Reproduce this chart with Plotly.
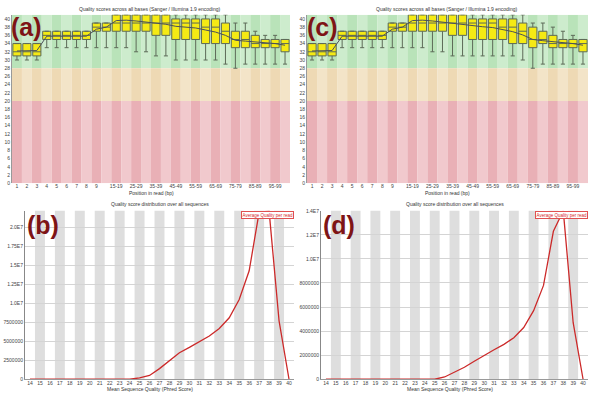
import plotly.graph_objects as go

W, H = 590, 398

# ---------------- data: per-base quality (panels a, c) ----------------
positions = ["1", "2", "3", "4", "5", "6", "7", "8", "9",
             "10-14", "15-19", "20-24", "25-29", "30-34", "35-39", "40-44",
             "45-49", "50-54", "55-59", "60-64", "65-69", "70-74", "75-79",
             "80-84", "85-89", "90-94", "95-99", "100-101"]
pos_tick_idx = [0, 1, 2, 3, 4, 5, 6, 7, 8, 10, 12, 14, 16, 18, 20, 22, 24, 26]
qual_ticks = list(range(0, 41, 2))

q1_a = [31, 31, 31, 35, 35, 35, 35, 35, 37, 37, 37, 37, 37, 37, 36, 36, 35, 35, 35, 34, 34, 34, 33, 33, 33, 33, 33, 32]
med_a = [32, 32, 32, 36, 36, 36, 36, 36, 38, 38, 39, 39, 39, 39, 39, 39, 39, 39, 39, 38, 38, 37, 35, 35, 34, 34, 34, 34]
q3_a = [34, 34, 34, 37, 37, 37, 37, 37, 39, 39, 41, 41, 41, 41, 41, 41, 40, 40, 40, 40, 40, 39, 37, 37, 36, 35, 35, 35]
lo_a = [30, 30, 30, 33, 33, 33, 33, 33, 33, 33, 33, 33, 32, 32, 31, 31, 30, 30, 30, 30, 30, 29, 28, 29, 29, 29, 29, 29]
hi_a = [34, 34, 34, 37, 37, 37, 37, 37, 39, 39, 41, 41, 41, 41, 41, 41, 41, 41, 41, 41, 41, 41, 39, 39, 37, 36, 36, 35]
mean_a = [32.2, 32.2, 32.3, 35.8, 35.8, 35.8, 35.8, 35.8, 37.5, 38.0, 39.6, 39.7, 39.5, 39.2, 38.9, 38.7,
          38.2, 38.0, 37.8, 37.3, 36.8, 36.0, 34.8, 34.6, 34.4, 34.2, 34.0, 33.6]

q1_c = [31, 31, 31, 35, 35, 35, 35, 35, 37, 37, 37, 37, 37, 37, 36, 36, 35, 35, 35, 35, 34, 34, 33, 34, 33, 33, 33, 32]
med_c = [32, 32, 32, 36, 36, 36, 36, 36, 38, 38, 39, 39, 39, 39, 39, 39, 39, 39, 39, 38, 38, 37, 35, 35, 34, 34, 34, 34]
q3_c = [34, 34, 34, 37, 37, 37, 37, 37, 39, 39, 41, 41, 41, 41, 41, 41, 40, 40, 40, 40, 40, 39, 38, 37, 36, 35, 35, 35]
lo_c = [30, 30, 30, 33, 33, 33, 33, 33, 33, 33, 33, 33, 32, 32, 31, 31, 31, 31, 31, 31, 31, 30, 28, 29, 29, 29, 29, 29]
hi_c = [34, 34, 34, 37, 37, 37, 37, 37, 39, 39, 41, 41, 41, 41, 41, 41, 41, 41, 41, 41, 41, 41, 39, 39, 38, 37, 36, 35]
mean_c = [32.2, 32.2, 32.3, 35.8, 35.8, 35.8, 35.8, 35.8, 37.5, 38.0, 39.6, 39.7, 39.5, 39.2, 38.9, 38.7,
          38.3, 38.1, 37.9, 37.4, 36.9, 36.1, 35.0, 34.7, 34.5, 34.2, 34.0, 33.6]

# ---------------- data: per-sequence quality (panels b, d) ----------------
seq_q = list(range(14, 41))
count_b = [0, 0, 0, 0, 0, 0, 0, 0, 0, 0, 0, 170000, 500000, 1400000, 2500000, 3500000, 4200000,
           5000000, 5700000, 6700000, 8100000, 10500000, 14300000, 22000000, 22200000, 7700000, 0]
count_d = [0, 0, 0, 0, 0, 0, 0, 0, 0, 0, 0, 0, 190000, 600000, 1000000, 1500000, 2000000,
           2450000, 2900000, 3450000, 4300000, 5700000, 7800000, 12300000, 14000000, 4700000, 0]
b_ticks = [0, 2500000, 5000000, 7500000, 10000000, 12500000, 15000000, 17500000, 20000000]
b_tick_text = ["0", "2500000", "5000000", "7500000", "1.0E7", "1.25E7", "1.5E7", "1.75E7", "2.0E7"]
d_ticks = [0, 2000000, 4000000, 6000000, 8000000, 10000000, 12000000, 14000000]
d_tick_text = ["0", "2000000", "4000000", "6000000", "8000000", "1.0E7", "1.2E7", "1.4E7"]

FONT = "Liberation Sans"
TICKF = dict(family=FONT, size=5, color="#444444")

fig = go.Figure()
shapes = []
annotations = []


def px_x(p):
    return p / W


def px_y(p):
    return 1 - p / H


# ---------- boxplot panels ----------
zones = [(28, 41, "#b9e3b9", "#cdeccd"), (20, 28, "#eed9b4", "#f3e4c8"), (0, 20, "#e9b0b6", "#f1c9cd")]


def box_panel(ax, q1, med, q3, lo, hi, mean):
    xs = list(range(len(positions)))
    for i in xs:
        for (z0, z1, dark, light) in zones:
            shapes.append(dict(type="rect", xref="x" + ax, yref="y" + ax, x0=i - 0.5, x1=i + 0.5,
                               y0=z0, y1=z1, fillcolor=dark if i % 2 == 0 else light,
                               line=dict(width=0), layer="below"))
    fig.add_trace(go.Box(x=xs, q1=q1, median=med, q3=q3, lowerfence=lo, upperfence=hi,
                         xaxis="x" + ax, yaxis="y" + ax, width=0.82, whiskerwidth=0.5,
                         fillcolor="#f5ea14", line=dict(color="#5d6a58", width=1),
                         boxpoints=False, hoverinfo="skip", showlegend=False))
    fig.add_trace(go.Scatter(x=xs, y=mean, xaxis="x" + ax, yaxis="y" + ax, mode="lines",
                             line=dict(color="#4a4f5a", width=1), showlegend=False, hoverinfo="skip"))


def line_panel(ax, counts):
    for q in seq_q:
        if q % 2 == 1:
            shapes.append(dict(type="rect", xref="x" + ax, yref="y" + ax + " domain", x0=q - 0.5, x1=q + 0.5,
                               y0=0, y1=1, fillcolor="#dedede", line=dict(width=0), layer="below"))
    fig.add_trace(go.Scatter(x=seq_q, y=counts, xaxis="x" + ax, yaxis="y" + ax, mode="lines",
                             line=dict(color="#cc2a2a", width=1.3), showlegend=False, hoverinfo="skip"))


box_panel("", q1_a, med_a, q3_a, lo_a, hi_a, mean_a)
box_panel("2", q1_c, med_c, q3_c, lo_c, hi_c, mean_c)
line_panel("3", count_b)
line_panel("4", count_d)

# axis domains (pixel based)
top_dom = [px_y(183), px_y(12)]
bot_dom = [px_y(382), px_y(211)]

box_x = dict(range=[-0.5, 27.5], tickmode="array", tickvals=pos_tick_idx,
             ticktext=[positions[i] for i in pos_tick_idx], tickfont=TICKF, showgrid=False,
             zeroline=False, ticks="", ticklen=0, showline=False, ticklabelstandoff=-1)
box_y = dict(range=[0, 41], tickmode="array", tickvals=qual_ticks, ticktext=[str(v) for v in qual_ticks],
             tickfont=TICKF, showgrid=False, zeroline=False, ticks="", showline=True,
             linecolor="#999999", linewidth=1)

seq_x = dict(range=[13.5, 40.5], tickmode="array", tickvals=seq_q, ticktext=[str(v) for v in seq_q],
             tickfont=TICKF, showgrid=False, zeroline=False, ticks="", showline=True,
             linecolor="#999999", linewidth=1, ticklabelstandoff=-1)

fig.update_layout(
    width=W, height=H, margin=dict(l=0, r=0, t=0, b=0),
    paper_bgcolor="white", plot_bgcolor="white",
    xaxis=dict(domain=[px_x(12), px_x(290)], anchor="y", **box_x),
    yaxis=dict(domain=top_dom, anchor="x", **box_y),
    xaxis2=dict(domain=[px_x(307), px_x(588)], anchor="y2", **box_x),
    yaxis2=dict(domain=top_dom, anchor="x2", **box_y),
    xaxis3=dict(domain=[px_x(25), px_x(294)], anchor="y3", **seq_x),
    yaxis3=dict(domain=bot_dom, anchor="x3", range=[0, 22200000], tickmode="array", tickvals=b_ticks,
                ticktext=b_tick_text, tickfont=TICKF, showgrid=True, gridcolor="#d4d4d4", gridwidth=1,
                zeroline=False, ticks="", showline=True, linecolor="#888888", linewidth=1),
    xaxis4=dict(domain=[px_x(321), px_x(588)], anchor="y4", **seq_x),
    yaxis4=dict(domain=bot_dom, anchor="x4", range=[0, 14000000], tickmode="array", tickvals=d_ticks,
                ticktext=d_tick_text, tickfont=TICKF, showgrid=True, gridcolor="#d4d4d4", gridwidth=1,
                zeroline=False, ticks="", showline=True, linecolor="#888888", linewidth=1),
)

TXT = dict(family=FONT, size=5, color="#333333")
titles = [
    (150, 6, "Quality scores across all bases (Sanger / Illumina 1.9 encoding)"),
    (447, 6, "Quality scores across all bases (Sanger / Illumina 1.9 encoding)"),
    (160, 204, "Quality score distribution over all sequences"),
    (455, 204, "Quality score distribution over all sequences"),
]
for x, y, t in titles:
    annotations.append(dict(text=t, x=px_x(x), y=px_y(y), xref="paper", yref="paper",
                            showarrow=False, font=TXT, xanchor="center", yanchor="middle"))
xlabels = [
    (151, 193, "Position in read (bp)"),
    (447, 193, "Position in read (bp)"),
    (150, 392, "Mean Sequence Quality (Phred Score)"),
    (450, 392, "Mean Sequence Quality (Phred Score)"),
]
for x, y, t in xlabels:
    annotations.append(dict(text=t, x=px_x(x), y=px_y(y), xref="paper", yref="paper",
                            showarrow=False, font=TXT, xanchor="center", yanchor="middle"))

# legend boxes
for x1 in (294, 588):
    annotations.append(dict(text="Average Quality per read", x=px_x(x1), y=px_y(215.5), xref="paper",
                            yref="paper", showarrow=False, xanchor="right", yanchor="middle",
                            font=dict(family=FONT, size=4.5, color="#d42a2a"), bgcolor="white",
                            bordercolor="#e05050", borderwidth=1, borderpad=0.5))

# panel labels
for x, y, t in [(9, 24, "(a)"), (305, 24, "(c)"), (25, 225, "(b)"), (321, 225, "(d)")]:
    annotations.append(dict(text="<b>" + t + "</b>", x=px_x(x), y=px_y(y), xref="paper", yref="paper",
                            showarrow=False, xanchor="left", yanchor="middle",
                            font=dict(family=FONT, size=25, color="#7e1416")))

fig.update_layout(shapes=shapes, annotations=annotations)
fig.write_html("out.html", config={"displayModeBar": False},
               post_script="document.body.style.margin='0';document.body.style.overflow='hidden';")
